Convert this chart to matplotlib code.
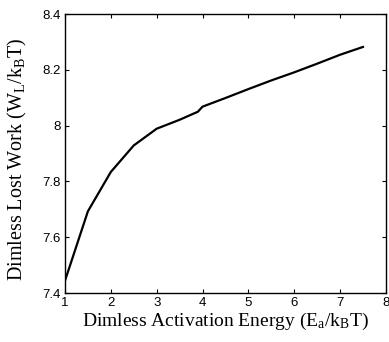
import matplotlib
matplotlib.use("Agg")
import matplotlib.pyplot as plt

plt.rcParams["mathtext.fontset"] = "custom"
plt.rcParams["mathtext.rm"] = "Liberation Serif"
plt.rcParams["mathtext.it"] = "Liberation Serif"
plt.rcParams["mathtext.default"] = "rm"

energy = [1.0, 1.5, 2.0, 2.5, 3.0, 3.5, 3.9, 4.0, 4.5, 5.0, 5.5, 6.0, 6.5, 7.0, 7.5]
lost_work = [7.444, 7.693, 7.834, 7.929, 7.989, 8.021, 8.050, 8.068, 8.099, 8.131, 8.162, 8.191, 8.222, 8.254, 8.282]
xticks = [1, 2, 3, 4, 5, 6, 7, 8]
yticks = [7.4, 7.6, 7.8, 8.0, 8.2, 8.4]
yticklabels = ["7.4", "7.6", "7.8", "8", "8.2", "8.4"]

fig = plt.figure(figsize=(3.89, 3.42), dpi=100)
ax = fig.add_axes([0.167, 0.143, 0.825, 0.816])
ax.plot(energy, lost_work, color="black", linewidth=1.6)
ax.set_xlim(1, 8)
ax.set_ylim(7.4, 8.4)
ax.set_xticks(xticks)
ax.set_yticks(yticks)
ax.set_yticklabels(yticklabels)
ax.tick_params(direction="in", top=True, right=True, length=3, width=0.8,
               labelsize=9.5, pad=3)
for lab in ax.get_xticklabels() + ax.get_yticklabels():
    lab.set_family("Liberation Sans")
for s in ax.spines.values():
    s.set_linewidth(1.0)
ax.set_xlabel(r"Dimless Activation Energy (E$_{a}$/k$_{B}$T)", family="Liberation Serif",
              fontsize=14, labelpad=1)
ax.set_ylabel(r"Dimless Lost Work (W$_{L}$/k$_{B}$T)", family="Liberation Serif",
              fontsize=14.5, labelpad=2)
ax.yaxis.set_label_coords(-0.112, 0.48)
fig.savefig("out.png", dpi=100)
